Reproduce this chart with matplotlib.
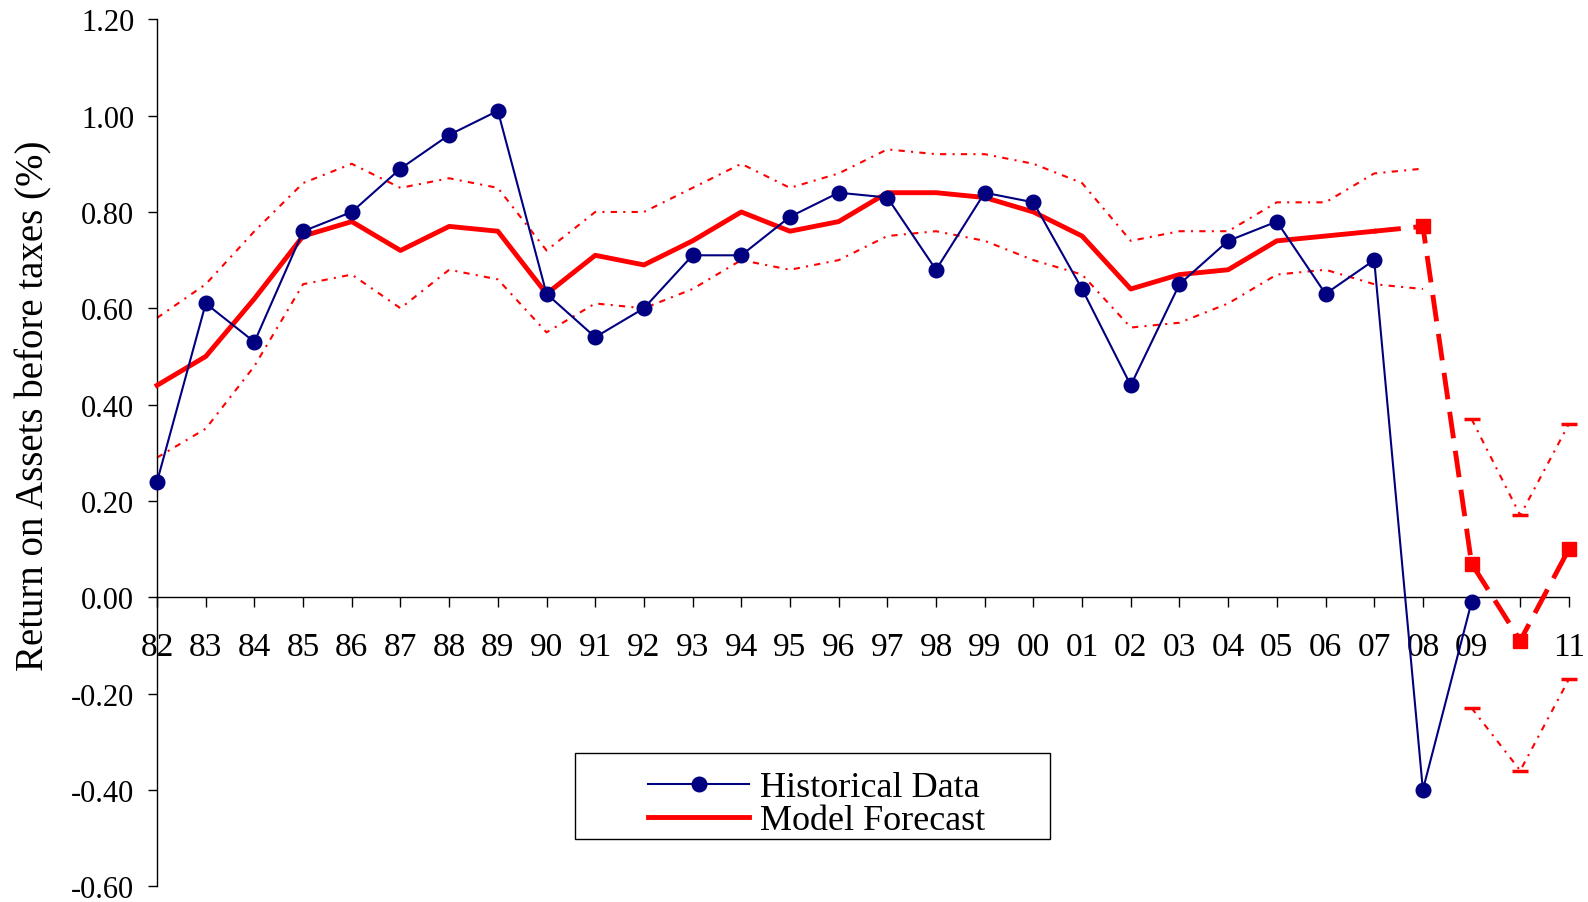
import numpy as np
import matplotlib
matplotlib.use("Agg")
import matplotlib.pyplot as plt
from matplotlib.patches import Rectangle

plt.rcParams['font.family'] = ['Liberation Serif', 'DejaVu Serif']

years = ["82", "83", "84", "85", "86", "87", "88", "89", "90", "91",
         "92", "93", "94", "95", "96", "97", "98", "99", "00", "01",
         "02", "03", "04", "05", "06", "07", "08", "09", "10", "11"]
year_labels = years[:28] + ["", "11"]

# historical ROA, 1982-2009
historical = [0.24, 0.61, 0.53, 0.76, 0.80, 0.89, 0.96, 1.01, 0.63, 0.54,
              0.60, 0.71, 0.71, 0.79, 0.84, 0.83, 0.68, 0.84, 0.82, 0.64,
              0.44, 0.65, 0.74, 0.78, 0.63, 0.70, -0.40, -0.01]

# in-sample model fit, 1982-2007
fitted = [0.44, 0.50, 0.62, 0.75, 0.78, 0.72, 0.77, 0.76, 0.63, 0.71,
          0.69, 0.74, 0.80, 0.76, 0.78, 0.84, 0.84, 0.83, 0.80, 0.75,
          0.64, 0.67, 0.68, 0.74, 0.75, 0.76]
fit_upper = [0.58, 0.65, 0.76, 0.86, 0.90, 0.85, 0.87, 0.85, 0.72, 0.80,
             0.80, 0.85, 0.90, 0.85, 0.88, 0.93, 0.92, 0.92, 0.90, 0.86,
             0.74, 0.76, 0.76, 0.82, 0.82, 0.88, 0.89]
fit_lower = [0.29, 0.35, 0.48, 0.65, 0.67, 0.60, 0.68, 0.66, 0.55, 0.61,
             0.60, 0.64, 0.70, 0.68, 0.70, 0.75, 0.76, 0.74, 0.70, 0.67,
             0.56, 0.57, 0.61, 0.67, 0.68, 0.65, 0.64]

# out-of-sample forecast, 2007-2011 (starts from the 2007 fit)
forecast = [0.76, 0.77, 0.07, -0.09, 0.10]
fc_upper = [0.37, 0.17, 0.36]
fc_lower = [-0.23, -0.36, -0.17]

navy = "#000080"
red = "#ff0000"
band_style = (0, (3, 3, 1, 3))

fig = plt.figure(figsize=(15.88, 9.03), dpi=100)
ax = fig.add_axes([0.0989, 0.0175, 0.8891, 0.960])

x = np.arange(len(years))

ax.plot(x[:len(fit_upper)], fit_upper, color=red, lw=1.5, ls=band_style, clip_on=False)
ax.plot(x[:len(fit_lower)], fit_lower, color=red, lw=1.5, ls=band_style, clip_on=False)
ax.plot(x[27:], fc_upper, color=red, lw=1.5, ls=band_style, marker="_",
        ms=11, mew=2.5, clip_on=False)
ax.plot(x[27:], fc_lower, color=red, lw=1.5, ls=band_style, marker="_",
        ms=11, mew=2.5, clip_on=False)

ax.plot(x[:len(historical)], historical, color=navy, lw=1.5, marker="o",
        ms=10.5, label="Historical Data", clip_on=False, zorder=4)
ax.plot(x[:len(fitted)], fitted, color=red, lw=3.5, label="Model Forecast",
        clip_on=False, zorder=3)
ax.plot(x[25:], forecast, color=red, lw=3.5, ls=(0, (5.5, 2.6)), marker="s",
        ms=10, markevery=[1, 2, 3, 4], clip_on=False, zorder=3)

ax.set_xlim(0, 29)
ax.set_ylim(-0.6, 1.2)
yt = np.arange(-0.6, 1.21, 0.2)
ax.set_yticks(yt)
ax.set_yticklabels([f"{v:.2f}" for v in yt])
ax.set_xticks(x)
ax.set_xticklabels(year_labels)

for s in ["top", "right"]:
    ax.spines[s].set_visible(False)
ax.spines["bottom"].set_position(("data", 0))
ax.spines["bottom"].set_linewidth(1.0)
ax.spines["left"].set_linewidth(1.0)

ax.tick_params(axis="x", direction="out", length=7, width=1, pad=17.5, labelsize=24)
ax.tick_params(axis="y", direction="out", length=6.5, width=1, pad=10, labelsize=22)

ax.set_ylabel("Return on Assets before taxes (%)", fontsize=28)
ax.yaxis.set_label_coords(-0.0743, 0.555)

# legend box drawn separately so the entries sit centred inside it
box = Rectangle((0.2963, 0.0546), 0.3364, 0.099, transform=ax.transAxes,
                fill=False, edgecolor="black", lw=1.0, clip_on=False, zorder=5)
ax.add_patch(box)
leg = ax.legend(loc="center", bbox_to_anchor=(0.4674, 0.0946), fontsize=26,
                frameon=False, handlelength=2.8, borderpad=0.1,
                labelspacing=0.0, handletextpad=0.3)

fig.savefig("out.png", dpi=100)
